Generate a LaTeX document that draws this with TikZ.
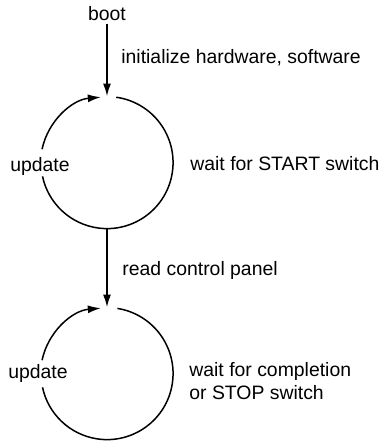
\documentclass[tikz,border=0pt]{standalone}
\usepackage{fontspec}
\setmainfont{Liberation Sans}
\usetikzlibrary{arrows.meta,positioning}
\tikzset{
  flow/.style={-{Latex[length=6.5pt,width=4pt]}, line width=1pt},
  ring/.style={line width=0.75pt},
  ringtip/.style={ring, -{Latex[length=6.5pt,width=4pt]}},
  waitcircle/.style={circle, minimum size=66pt, inner sep=0pt},
  note/.style={font=\fontsize{9.7}{11.5}\selectfont, inner sep=1pt, align=left}
}
\begin{document}
\begin{tikzpicture}[x=0.5pt,y=0.5pt]
  \useasboundingbox (0,0) rectangle (381,441);
  % the two waiting states
  \node[waitcircle] (waitstart) at (107,278) {};
  \node[waitcircle] (waitstop) at (107,67) {};
  \node[note] (boot) at (107,427) {boot};
  \node[note,anchor=west] (init) at (119,383) {initialize hardware, software};
  \node[note] (updatea) at (40,275) {update};
  \node[note,anchor=west] (startsw) at (188,277) {wait for START switch};
  \node[note,anchor=west] (panel) at (120,171) {read control panel};
  \node[note] (updateb) at (38,68) {update};
  \node[note,anchor=west] (stopsw) at (187,60) {wait for completion\\or STOP switch};
  % transitions
  \draw[flow] (boot) -- (waitstart.north);
  \draw[flow] (waitstart.south) -- (waitstop.north);
  \draw[ring] (waitstart.82) arc[start angle=82, end angle=-168, radius=66];
  \draw[ringtip] (waitstart.168) arc[start angle=168, end angle=95, radius=66];
  \draw[ring] (waitstop.81) arc[start angle=81, end angle=-168, radius=66];
  \draw[ringtip] (waitstop.168) arc[start angle=168, end angle=95, radius=66];
\end{tikzpicture}
\end{document}
